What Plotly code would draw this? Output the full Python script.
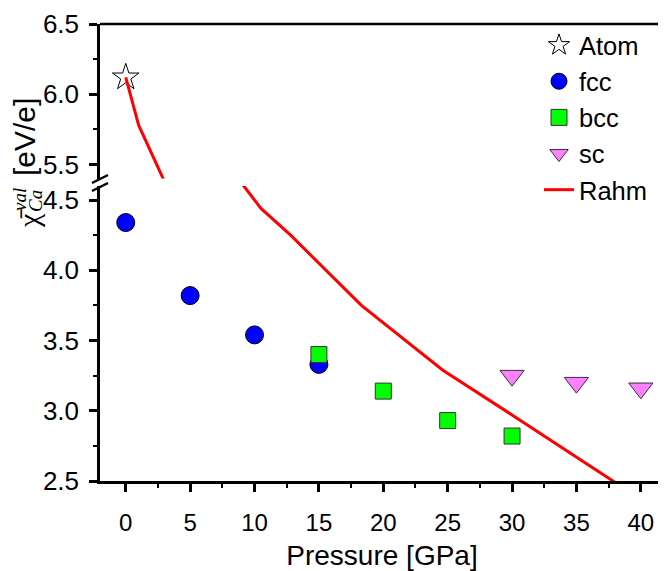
import plotly.graph_objects as go

# ---------------- data ----------------
atom_x = [0]
atom_y = [6.12]

fcc_x = [0, 5, 10, 15]
fcc_y = [4.34, 3.82, 3.54, 3.33]

bcc_x = [15, 20, 25, 30]
bcc_y = [3.40, 3.14, 2.93, 2.82]

sc_x = [30, 35, 40]
sc_y = [3.25, 3.20, 3.16]

rahm_x = [0, 1, 3, 6, 10.5, 12.8, 18.3, 24.6, 30, 38]
rahm_y = [6.12, 5.78, 5.38, 4.98, 4.44, 4.25, 3.75, 3.29, 2.97, 2.49]

x_ticks = [0, 5, 10, 15, 20, 25, 30, 35, 40]
y_low_ticks = [2.5, 3.0, 3.5, 4.0, 4.5]
y_up_ticks = [5.5, 6.0, 6.5]

# ---------------- geometry (page pixels -> paper) ----------------
OFF = 8                      # default body margin of the html page
PAGE_W, PAGE_H = 666, 571
W, H = PAGE_W - OFF, PAGE_H - OFF
LEFT, RIGHT, TOP, BOTTOM = 100, 664, 24, 481   # plot area in page pixels
ML, MR, MT, MB = LEFT - OFF, W - (RIGHT - OFF), TOP - OFF, H - (BOTTOM - OFF)
PW = RIGHT - LEFT
PH = BOTTOM - TOP


def px(x):
    return (x - LEFT) / PW


def py(y):
    return (BOTTOM - y) / PH


FONT = "Liberation Sans, Arial, sans-serif"
SERIF = "Liberation Serif, Times New Roman, serif"

fig = go.Figure()

fig.add_trace(go.Scatter(
    x=atom_x, y=atom_y, name="Atom", mode="markers", xaxis="x", yaxis="y2",
    marker=dict(symbol="star-open", size=20, color="black", line=dict(width=1, color="black")),
))
fig.add_trace(go.Scatter(
    x=fcc_x, y=fcc_y, name="fcc", mode="markers", xaxis="x", yaxis="y",
    marker=dict(symbol="circle", size=18, color="#0000FF", line=dict(width=1, color="black")),
))
fig.add_trace(go.Scatter(
    x=bcc_x, y=bcc_y, name="bcc", mode="markers", xaxis="x", yaxis="y",
    marker=dict(symbol="square", size=16, color="#00FF00", line=dict(width=1, color="#333333")),
))
fig.add_trace(go.Scatter(
    x=sc_x, y=sc_y, name="sc", mode="markers", xaxis="x", yaxis="y",
    marker=dict(symbol="triangle-down", size=21, color="#FF80FF", line=dict(width=1, color="#333333")),
))
fig.add_trace(go.Scatter(
    x=rahm_x, y=rahm_y, name="Rahm", mode="lines", xaxis="x", yaxis="y",
    line=dict(color="#FF0000", width=3),
))
fig.add_trace(go.Scatter(
    x=rahm_x, y=rahm_y, name="Rahm", mode="lines", xaxis="x", yaxis="y2",
    line=dict(color="#FF0000", width=3), showlegend=False,
))

axis_common = dict(
    showline=True, linecolor="black", linewidth=2.5,
    ticks="outside", ticklen=8, tickwidth=2.5, tickcolor="black",
    showgrid=False, zeroline=False,
)
minor_y = dict(dtick=0.25, tick0=0, ticks="outside", ticklen=4, tickwidth=2, tickcolor="black")

fig.update_layout(
    width=W, height=H,
    margin=dict(l=ML, r=MR, t=MT, b=MB, autoexpand=False),
    paper_bgcolor="white", plot_bgcolor="white",
    font=dict(family=FONT, color="black"),
    xaxis=dict(
        range=[-2, 41.8], tickvals=x_ticks, anchor="y",
        minor=dict(dtick=2.5, tick0=0, ticks="outside", ticklen=4, tickwidth=2, tickcolor="black"),
        title=dict(text="Pressure [GPa]", font=dict(family=FONT, size=28, color="black"), standoff=12),
        tickfont=dict(family=FONT, size=24, color="black"),
        ticklabelstandoff=10,
        **axis_common,
    ),
    yaxis=dict(
        domain=[0, py(186)], range=[2.5, 4.6], tickvals=y_low_ticks, tickformat=".1f", anchor="x",
        minor=minor_y, ticklabelstandoff=5,
        tickfont=dict(family=FONT, size=26, color="black"),
        **axis_common,
    ),
    yaxis2=dict(
        domain=[py(178.5), 1], range=[5.4, 6.5], tickvals=y_up_ticks, tickformat=".1f", anchor="x",
        minor=minor_y, ticklabelstandoff=5,
        tickfont=dict(family=FONT, size=26, color="black"),
        **axis_common,
    ),
    legend=dict(
        x=px(539), y=py(22), xanchor="left", yanchor="top",
        bgcolor="rgba(0,0,0,0)", borderwidth=0,
        font=dict(family=FONT, size=25.5, color="black"),
        traceorder="normal",
    ),
    showlegend=True,
)

# frame (top and right border) and axis-break marks
shapes = [
    dict(type="line", xref="paper", yref="paper", x0=0, x1=1, y0=1, y1=1,
         line=dict(color="black", width=2.5)),
    dict(type="line", xref="paper", yref="paper", x0=1, x1=1, y0=0, y1=1,
         line=dict(color="black", width=2.5)),
    dict(type="line", xref="paper", yref="paper", x0=px(92), x1=px(108), y0=py(183), y1=py(175),
         line=dict(color="black", width=2.5)),
    dict(type="line", xref="paper", yref="paper", x0=px(92), x1=px(108), y0=py(191), y1=py(183),
         line=dict(color="black", width=2.5)),
]
fig.update_layout(shapes=shapes)

# y-axis title built from rotated pieces
annotations = [
    dict(text="[eV/e]", x=px(24), y=py(137), xref="paper", yref="paper", showarrow=False,
         textangle=-90, font=dict(family=FONT, size=30, color="black"), xanchor="center", yanchor="middle"),
    dict(text="\u03c7\u0304", x=px(28), y=py(219), xref="paper", yref="paper", showarrow=False,
         textangle=-90, font=dict(family=SERIF, size=30, color="black"), xanchor="center", yanchor="middle"),
    dict(text="<i>val</i>", x=px(19), y=py(199), xref="paper", yref="paper", showarrow=False,
         textangle=-90, font=dict(family=SERIF, size=19, color="black"), xanchor="center", yanchor="middle"),
    dict(text="<i>Ca</i>", x=px(35), y=py(201), xref="paper", yref="paper", showarrow=False,
         textangle=-90, font=dict(family=SERIF, size=19, color="black"), xanchor="center", yanchor="middle"),
]
fig.update_layout(annotations=annotations)

fig.write_html("out.html")
